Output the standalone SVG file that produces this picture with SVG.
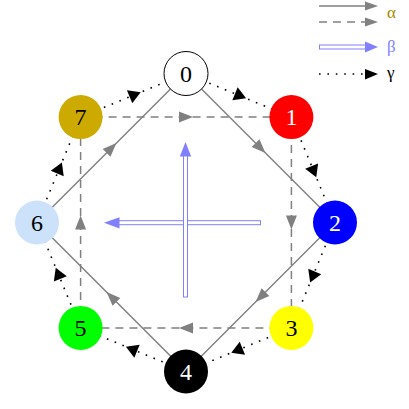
<svg xmlns="http://www.w3.org/2000/svg" width="409" height="409" viewBox="0 0 409 409">
<style>
.a{fill:none;stroke:#808080;stroke-width:1.5}
.ad{fill:none;stroke:#808080;stroke-width:1.5;stroke-dasharray:8 6}
.g{fill:none;stroke:#000;stroke-width:1.6;stroke-dasharray:1.6 6.8}
.sa{marker-mid:url(#ag)}
.sg{marker-mid:url(#ak)}
.n{stroke:none}
.t{font-family:"Liberation Serif","Times New Roman",serif;font-size:24px;text-anchor:middle}
.l{font-family:"Liberation Serif","Times New Roman",serif;font-size:17px}
</style>
<defs>
<marker id="ag" viewBox="-10 -10 20 20" markerWidth="20" markerHeight="20" markerUnits="userSpaceOnUse" orient="auto" refX="0" refY="0"><path d="M-7,-5.5 L7,0 L-7,5.5 z" fill="#808080"/></marker>
<marker id="ak" viewBox="-10 -10 20 20" markerWidth="20" markerHeight="20" markerUnits="userSpaceOnUse" orient="auto" refX="0" refY="0"><path d="M-4,-7 L8,0 L-4,7 z" fill="#000"/></marker>
</defs>
<rect width="409" height="409" fill="#fff"/>
<g id="connectors">
<path class="a sa" d="M186,73.5 L260.5,148 L335,222.5"/>
<path class="a sa" d="M335,222.5 L260.5,297 L186,371.5"/>
<path class="a sa" d="M186,371.5 L111.5,297 L37,222.5"/>
<path class="a sa" d="M37,222.5 L111.5,148 L186,73.5"/>
<path class="ad sa" d="M80.6,117.1 L186,117.1 L291.4,117.1"/>
<path class="ad sa" d="M291.4,117.1 L291.4,222.5 L291.4,327.9"/>
<path class="ad sa" d="M291.4,327.9 L186,327.9 L80.6,327.9"/>
<path class="ad sa" d="M80.6,327.9 L80.6,222.5 L80.6,117.1"/>
<path class="g sg" d="M186,73.5 L238.7,95.3 L291.4,117.1"/>
<path class="g sg" d="M291.4,117.1 L313.2,169.8 L335,222.5"/>
<path class="g sg" d="M335,222.5 L313.2,275.2 L291.4,327.9"/>
<path class="g sg" d="M291.4,327.9 L238.7,349.7 L186,371.5"/>
<path class="g sg" d="M186,371.5 L133.3,349.7 L80.6,327.9"/>
<path class="g sg" d="M80.6,327.9 L58.8,275.2 L37,222.5"/>
<path class="g sg" d="M37,222.5 L58.8,169.8 L80.6,117.1"/>
<path class="g sg" d="M80.6,117.1 L133.3,95.3 L186,73.5"/>
<g id="beta-h">
<rect x="118.5" y="220.7" width="142" height="4" fill="#fff" stroke="#8080ff" stroke-width="1"/>
<path d="M104,222.7 L119.5,217.3 L119.5,228.5 z" fill="#8080ff"/>
</g>
<g id="beta-v">
<rect x="183.5" y="155.5" width="4" height="141.5" fill="#fff" stroke="#8080ff" stroke-width="1"/>
<path d="M185.5,142 L191.2,156.5 L179.8,156.5 z" fill="#8080ff"/>
</g>
</g>
<g id="node0"><circle cx="186" cy="73.5" r="22" fill="#fff" stroke="#000" stroke-width="1"/><text class="t" x="186" y="81.5" fill="#000">0</text></g>
<g id="node1"><circle class="n" cx="291.4" cy="117.1" r="22" fill="#ff0000"/><text class="t" x="291.4" y="125.1" fill="#fff">1</text></g>
<g id="node2"><circle class="n" cx="335" cy="222.5" r="22" fill="#0000ff"/><text class="t" x="335" y="230.5" fill="#fff">2</text></g>
<g id="node3"><circle class="n" cx="291.4" cy="327.9" r="22" fill="#ffff00"/><text class="t" x="291.4" y="335.9" fill="#000">3</text></g>
<g id="node4"><circle class="n" cx="186" cy="371.5" r="22" fill="#000"/><text class="t" x="186" y="379.5" fill="#fff">4</text></g>
<g id="node5"><circle class="n" cx="80.6" cy="327.9" r="22" fill="#00ff00"/><text class="t" x="80.6" y="335.9" fill="#000">5</text></g>
<g id="node6"><circle class="n" cx="37" cy="222.5" r="22" fill="#cce2fb"/><text class="t" x="37" y="230.5" fill="#000">6</text></g>
<g id="node7"><circle class="n" cx="80.6" cy="117.1" r="22" fill="#ccaa00"/><text class="t" x="80.6" y="125.1" fill="#000">7</text></g>
<g id="legend">
<line x1="319" y1="6" x2="366" y2="6" stroke="#808080" stroke-width="1.5"/>
<path d="M378,6 L365,1.5 L365,10.5 z" fill="#808080"/>
<line x1="319" y1="22" x2="366" y2="22" stroke="#808080" stroke-width="1.5" stroke-dasharray="8 6"/>
<path d="M378,22 L365,17.5 L365,26.5 z" fill="#808080"/>
<text class="l" x="387" y="18" fill="#a08c00">α</text>
<rect x="319.5" y="45" width="47" height="4" fill="#fff" stroke="#8080ff" stroke-width="1"/>
<path d="M378,47 L365,41.5 L365,52.5 z" fill="#8080ff"/>
<text class="l" x="387" y="52" fill="#8080ff">β</text>
<line x1="319" y1="74" x2="366" y2="74" stroke="#000" stroke-width="1.6" stroke-dasharray="1.6 6.8"/>
<path d="M378,74 L365,69 L365,79.5 z" fill="#000"/>
<text class="l" x="387" y="78" fill="#000">γ</text>
</g>
</svg>
